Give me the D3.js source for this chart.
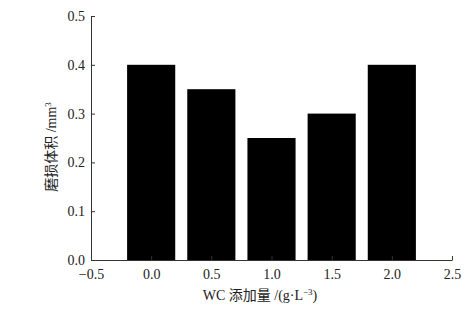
<!DOCTYPE html>
<html>
<head>
<meta charset="utf-8">
<script src="https://cdn.jsdelivr.net/npm/d3@7"></script>
<style>
  body { margin: 0; background: #fff; }
  text { font-family: "Liberation Serif", "Noto Sans CJK SC", serif; fill: #222; }
</style>
</head>
<body>
<div id="graph"></div>
<script>
// data
var wcAmount = [0.0, 0.5, 1.0, 1.5, 2.0];
var wearVolume = [0.40, 0.35, 0.25, 0.30, 0.40];
var xTicks = [-0.5, 0.0, 0.5, 1.0, 1.5, 2.0, 2.5];
var yTicks = [0.0, 0.1, 0.2, 0.3, 0.4, 0.5];

var width = 473, height = 311;
var margin = { left: 91, right: 21, top: 16, bottom: 51 };

var svg = d3.select('#graph')
    .append('svg')
    .attr('width', width)
    .attr('height', height);

var x = d3.scaleLinear()
    .domain([-0.5, 2.5])
    .range([margin.left, width - margin.right]);

var y = d3.scaleLinear()
    .domain([0, 0.5])
    .range([height - margin.bottom, margin.top]);

var barW = 0.4;

// bars
svg.append('g')
    .selectAll('rect')
    .data(wearVolume)
    .enter()
    .append('rect')
    .attr('x', (d, i) => x(wcAmount[i] - barW / 2))
    .attr('width', (d, i) => x(wcAmount[i] + barW / 2) - x(wcAmount[i] - barW / 2))
    .attr('y', d => y(d))
    .attr('height', d => y(0) - y(d))
    .style('fill', '#000');

// axes, ticks pointing inward
var xAxis = d3.axisBottom(x)
    .tickValues(xTicks)
    .tickFormat(d => d < 0 ? '\u2212' + d3.format('.1f')(-d) : d3.format('.1f')(d))
    .tickSizeInner(-4)
    .tickSizeOuter(0)
    .tickPadding(9);

var yAxis = d3.axisLeft(y)
    .tickValues(yTicks)
    .tickFormat(d3.format('.1f'))
    .tickSizeInner(-4)
    .tickSizeOuter(0)
    .tickPadding(6);

var gx = svg.append('g')
    .attr('transform', 'translate(0,' + y(0) + ')')
    .call(xAxis);

var gy = svg.append('g')
    .attr('transform', 'translate(' + x(-0.5) + ',0)')
    .call(yAxis);

[gx, gy].forEach(function(g) {
    g.selectAll('path, line').style('stroke', '#333').style('stroke-width', 1);
    g.selectAll('text').style('font-size', '14px').style('font-family', '"Liberation Serif", serif').style('fill', '#222');
});

// axis labels
svg.append('text')
    .attr('x', 260)
    .attr('y', 300)
    .style('text-anchor', 'middle')
    .style('font-size', '14px')
    .html('WC 添加量 /(g·L<tspan dy="-5" font-size="9">−3</tspan><tspan dy="5">)</tspan>');

svg.append('text')
    .attr('transform', 'translate(56,' + 147 + ') rotate(-90)')
    .style('text-anchor', 'middle')
    .style('font-size', '14px')
    .html('磨损体积 /mm<tspan dy="-5" font-size="9">3</tspan>');
</script>
</body>
</html>
